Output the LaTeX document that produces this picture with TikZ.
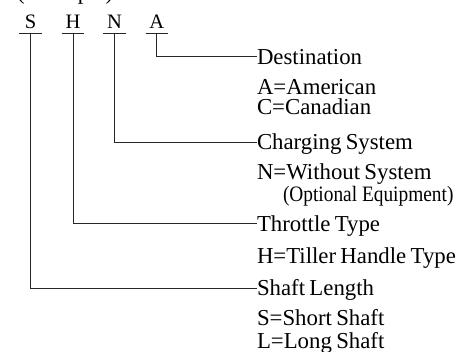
\documentclass[tikz,border=0pt]{standalone}
\usepackage{fontspec}
\usepackage{graphicx}
\setmainfont{Liberation Serif}
\newcommand{\lblfont}{\fontsize{22.8}{22.8}\selectfont\spaceskip=0.19em plus 0.05em\relax}
\begin{document}
\begin{tikzpicture}[x=1pt,y=-1pt,
  every node/.style={inner sep=0pt, outer sep=0pt, text=black},
  letter/.style={anchor=base, font=\fontsize{20.5}{20.5}\selectfont, minimum width=22.4pt, text depth=5.3pt},
  lbl/.style={anchor=base west, font=\lblfont},
  small/.style={anchor=base west, font=\fontsize{22}{22}\selectfont},
  conn/.style={draw=black!85, line width=0.9pt},
]
\useasboundingbox (0,0) rectangle (458,351);
% header (cut off at top)
\node[lbl] (ex) at (17,-0.5) {(Example)};
% code letters
\node[letter] (S) at (30.5,28) {S};
\node[letter] (H) at (73,28) {H};
\node[letter] (N) at (114.5,28) {N};
\node[letter] (A) at (156.7,28) {A};
\foreach \n in {S,H,N,A}{\draw[conn] (\n.south west) -- (\n.south east);}
% labels
\node[lbl] (dest) at (257,64) {Destination};
\node[lbl] (dA) at (257,94) {A=American};
\node[lbl] (dC) at (257,114.5) {C=Canadian};
\node[lbl] (chg) at (257,149) {Charging System};
\node[lbl] (cN) at (257,179.5) {N=Without System};
\node[small] (cO) at (283,201) {\scalebox{0.88}[1]{(Optional Equipment)}};
\node[lbl] (thr) at (257,231) {Throttle Type};
\node[lbl] (tH) at (257,263) {H=Tiller Handle Type};
\node[lbl] (sh) at (257,295) {Shaft Length};
\node[lbl] (sS) at (257,325) {S=Short Shaft};
\node[lbl] (sL) at (257,348) {L=Long Shaft};
% connectors
\draw[conn] (A.south) |- ([yshift=8pt]dest.base west);
\draw[conn] (N.south) |- ([yshift=7pt]chg.base west);
\draw[conn] (H.south) |- ([yshift=7.5pt]thr.base west);
\draw[conn] (S.south) |- ([yshift=7pt]sh.base west);
\end{tikzpicture}
\end{document}
